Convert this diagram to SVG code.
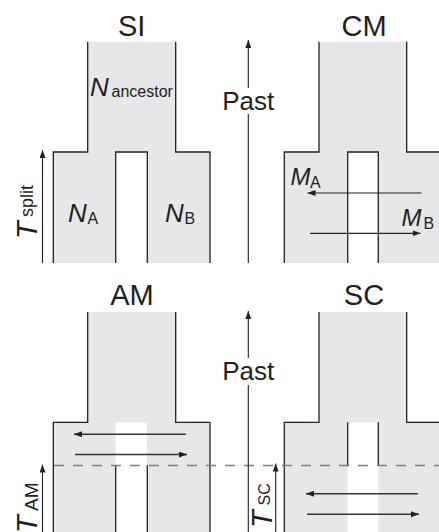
<svg xmlns="http://www.w3.org/2000/svg" width="439" height="532" viewBox="0 0 439 532">
<defs>
<style>
.fill{fill:#e6e7e8;stroke:none}
.gap{fill:#fff;stroke:none}
.edge{fill:none;stroke:#231f20;stroke-width:1.3}
.ax{fill:none;stroke:#231f20;stroke-width:1.1}
.mig{fill:none;stroke:#231f20;stroke-width:1.2}
.mig2{fill:none;stroke:#333;stroke-width:1.5}
.dash{fill:none;stroke:#808080;stroke-width:1.5;stroke-dasharray:10 9}
.title{font-family:"Liberation Sans",Arial,sans-serif;font-size:29px;fill:#231f20;text-anchor:middle}
.past{font-family:"Liberation Sans",Arial,sans-serif;font-size:26px;fill:#231f20;text-anchor:middle}
.it{font-family:"Liberation Sans",Arial,sans-serif;font-style:italic;font-size:24px;fill:#231f20}
.nn{font-size:26px}
.sub{font-family:"Liberation Sans",Arial,sans-serif;font-style:normal;font-size:16px;fill:#231f20}
.T{font-family:"Liberation Sans",Arial,sans-serif;font-style:italic;font-size:29px;fill:#231f20}
.tsub{font-family:"Liberation Sans",Arial,sans-serif;font-style:normal;fill:#231f20}
</style>
<marker id="ah" viewBox="0 0 8 6" refX="8" refY="3" markerWidth="8" markerHeight="6" markerUnits="userSpaceOnUse" orient="auto">
<path d="M0,0 L8,3 L0,6 Z" fill="#231f20"/>
</marker>
</defs>

<g id="SI">
<path class="fill" d="M53.3,263 V152 H87.7 V41.7 H175.7 V152 H210 V263 Z"/>
<rect class="gap" x="115.7" y="152" width="31.6" height="111"/>
<path class="edge" d="M53.3,263 V152 H87.7 V41.7 M175.7,41.7 V152 H210 V263 M115.7,263 V152 H147.3 V263"/>
<text class="title" x="131.7" y="35.5">SI</text>
<text class="it nn" x="90" y="95.5">N<tspan class="sub" x="111.5" y="96.5">ancestor</tspan></text>
<text class="it nn" x="68" y="222">N<tspan class="sub" x="87.5" y="223.5">A</tspan></text>
<text class="it nn" x="165" y="222">N<tspan class="sub" x="184.5" y="223.5">B</tspan></text>
</g>

<g id="CM">
<path class="fill" d="M284.3,263 V152 H319 V41.7 H406.7 V152 H441 V263 Z"/>
<rect class="gap" x="347.7" y="152" width="30.6" height="111"/>
<path class="edge" d="M284.3,263 V152 H319 V41.7 M406.7,41.7 V152 H441 M347.7,263 V152 H378.3 V263"/>
<text class="title" x="364" y="36">CM</text>
<text class="it" x="290.5" y="185">M<tspan class="sub" x="310" y="187.5">A</tspan></text>
<text class="it" x="401.5" y="226">M<tspan class="sub" x="423.5" y="228.5">B</tspan></text>
</g>

<g id="AM">
<path class="fill" d="M53.3,532 V422.3 H87.7 V312 H175.7 V422.3 H210 V532 Z"/>
<rect class="gap" x="115.7" y="422.5" width="31.2" height="110"/>
<path class="edge" d="M53.3,532 V422.3 H87.7 V312 M175.7,312 V422.3 H210 V532 M115.7,465.3 V532 M147.3,465.3 V532"/>
<text class="title" x="132" y="305">AM</text>
</g>

<g id="SC">
<path class="fill" d="M284.3,532 V422.3 H319 V312 H406.7 V422.3 H441 V532 Z"/>
<rect class="gap" x="347.7" y="422.5" width="30.6" height="110"/>
<path class="edge" d="M284.3,532 V422.3 H319 V312 M406.7,312 V422.3 H441 M347.7,422.3 V465.3 M378.3,422.3 V465.3"/>
<text class="title" x="364" y="305">SC</text>
</g>

<g id="labels">
<text class="past" x="248.3" y="110">Past</text>
<text class="past" x="248.3" y="380">Past</text>
<text class="T" transform="translate(36.7,239) rotate(-90)">T<tspan class="tsub" style="font-size:18px" x="22" y="-3.5">split</tspan></text>
<text class="T" transform="translate(36.7,533) rotate(-90)">T<tspan class="tsub" style="font-size:19px" x="22" y="1.5">AM</tspan></text>
<text class="T" transform="translate(272.3,528) rotate(-90)">T<tspan class="tsub" style="font-size:16px" x="22.5" y="-2">SC</tspan></text>
</g>

<g id="connectors">
<line class="ax" x1="42.5" y1="263" x2="42.5" y2="150" marker-end="url(#ah)"/>
<line class="ax" x1="248.3" y1="263" x2="248.3" y2="114"/>
<line class="ax" x1="248.3" y1="88" x2="248.3" y2="40" marker-end="url(#ah)"/>
<line class="mig" x1="421.5" y1="193" x2="307.5" y2="193" marker-end="url(#ah)"/>
<line class="mig" x1="310" y1="233.3" x2="420.5" y2="233.3" marker-end="url(#ah)"/>
<line class="dash" x1="54" y1="465.5" x2="439" y2="465.5"/>
<line class="mig2" x1="186" y1="434.3" x2="74" y2="434.3" marker-end="url(#ah)"/>
<line class="mig2" x1="75" y1="454.5" x2="187" y2="454.5" marker-end="url(#ah)"/>
<line class="ax" x1="42.5" y1="532" x2="42.5" y2="464.5" marker-end="url(#ah)"/>
<line class="ax" x1="248.3" y1="532" x2="248.3" y2="385"/>
<line class="ax" x1="248.3" y1="358" x2="248.3" y2="311" marker-end="url(#ah)"/>
<line class="ax" x1="275.7" y1="532" x2="275.7" y2="463.5" marker-end="url(#ah)"/>
<line class="mig2" x1="418" y1="493.7" x2="306" y2="493.7" marker-end="url(#ah)"/>
<line class="mig2" x1="307" y1="514.3" x2="419" y2="514.3" marker-end="url(#ah)"/>
</g>
</svg>
